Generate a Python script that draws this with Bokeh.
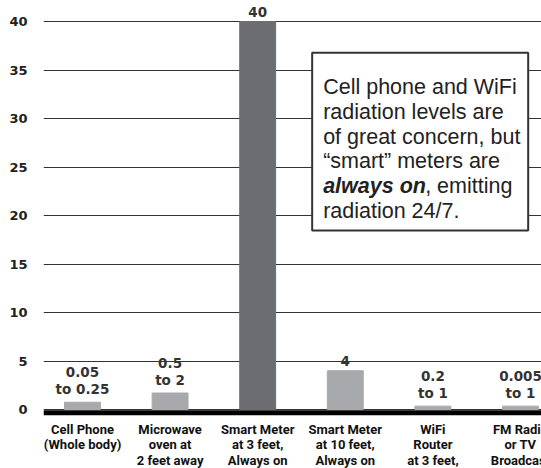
from bokeh.plotting import figure
from bokeh.models import Range1d, FixedTicker, Span, ColumnDataSource
from bokeh.core.properties import value
from bokeh.embed import file_html
from bokeh.resources import INLINE

# ---- data ----
categories = [
    "Cell Phone\n(Whole body)",
    "Microwave\noven at\n2 feet away",
    "Smart Meter\nat 3 feet,\nAlways on",
    "Smart Meter\nat 10 feet,\nAlways on",
    "WiFi\nRouter\nat 3 feet,",
    "FM Radio\nor TV\nBroadcast",
]
bar_values = [0.75, 1.7, 40, 4, 0.35, 0.35]
value_labels = ["0.05\nto 0.25", "0.5\nto 2", "40", "4", "0.2\nto 1", "0.005\nto 1"]
highlight = [False, False, True, False, False, False]
y_ticks = [0, 5, 10, 15, 20, 25, 30, 35, 40]
note_lines = [
    "Cell phone and WiFi",
    "radiation levels are",
    "of great concern, but",
    "\u201csmart\u201d meters are",
    "",
    "radiation 24/7.",
]
note_bold = "always on"
note_rest = ", emitting"

DARK = "#6c6d71"
LIGHT = "#a8a9ad"

xs = list(range(len(categories)))
colors = [DARK if h else LIGHT for h in highlight]
src = ColumnDataSource(dict(x=xs, v=bar_values, lab=value_labels, c=colors,
                            zero=[0] * len(xs), cat=categories))

p = figure(width=541, height=468, output_backend="svg", toolbar_location=None,
           x_range=Range1d(-0.445, 5.240), y_range=Range1d(-6.08, 42.165),
           min_border_left=43, min_border_right=0, min_border_top=0, min_border_bottom=0)
p.outline_line_color = None
p.background_fill_color = "white"
p.border_fill_color = "white"
p.xgrid.visible = False
p.xaxis.visible = False
p.ygrid.ticker = FixedTicker(ticks=y_ticks)
p.ygrid.grid_line_color = "#333333"
p.ygrid.grid_line_width = 1.2

p.vbar(x="x", top="v", bottom=0, width=0.41, color="c", source=src)

p.text(x="x", y="v", text="lab", source=src, text_align="center", text_baseline="bottom",
       y_offset=-5, text_font=value("DejaVu Sans"), text_font_style="bold",
       text_font_size="13.5px", text_line_height=1.05, text_color="#333333")

p.add_layout(Span(location=-0.32, dimension="width", line_color="black", line_width=5))

# category labels under the baseline
p.text(x="x", y="zero", text="cat", source=src, text_align="center", text_baseline="top",
       y_offset=12, text_font=value("Roboto"), text_font_style="bold",
       text_font_size="13px", text_line_height=1.06, text_color="#111111")

# note box
bx0, bx1, by0, by1 = 2.622, 5.088, 18.45, 36.77
p.quad(left=[bx0], right=[bx1], bottom=[by0], top=[by1], fill_color="white",
       line_color="#333333", line_width=2)
n = len(note_lines)
nsrc = ColumnDataSource(dict(x=[bx0] * n, y=[by1] * n, t=note_lines,
                             yo=[34.4 + 24.66 * i for i in range(n)]))
p.text(x="x", y="y", text="t", source=nsrc, x_offset=11, y_offset="yo",
       text_font=value("Liberation Sans"), text_font_size="21.5px", text_color="#222222",
       text_baseline="alphabetic", text_align="left")
p.text(x=[bx0], y=[by1], text=[note_bold], x_offset=11, y_offset=34.4 + 24.66 * 4,
       text_font=value("Liberation Sans"), text_font_style="bold italic",
       text_font_size="21.5px", text_color="#222222", text_baseline="alphabetic")
p.text(x=[bx0], y=[by1], text=[note_rest], x_offset=11 + 102, y_offset=34.4 + 24.66 * 4,
       text_font=value("Liberation Sans"), text_font_size="21.5px", text_color="#222222",
       text_baseline="alphabetic")

# y axis
p.yaxis.ticker = FixedTicker(ticks=y_ticks)
p.yaxis.axis_line_color = None
p.yaxis.major_tick_line_color = None
p.yaxis.minor_tick_line_color = None
p.yaxis.major_label_standoff = 10
p.yaxis.major_label_text_font = "DejaVu Sans"
p.yaxis.major_label_text_font_style = "bold"
p.yaxis.major_label_text_font_size = "13px"
p.yaxis.major_label_text_color = "#222222"

open("out.html", "w").write(file_html(p, INLINE))
